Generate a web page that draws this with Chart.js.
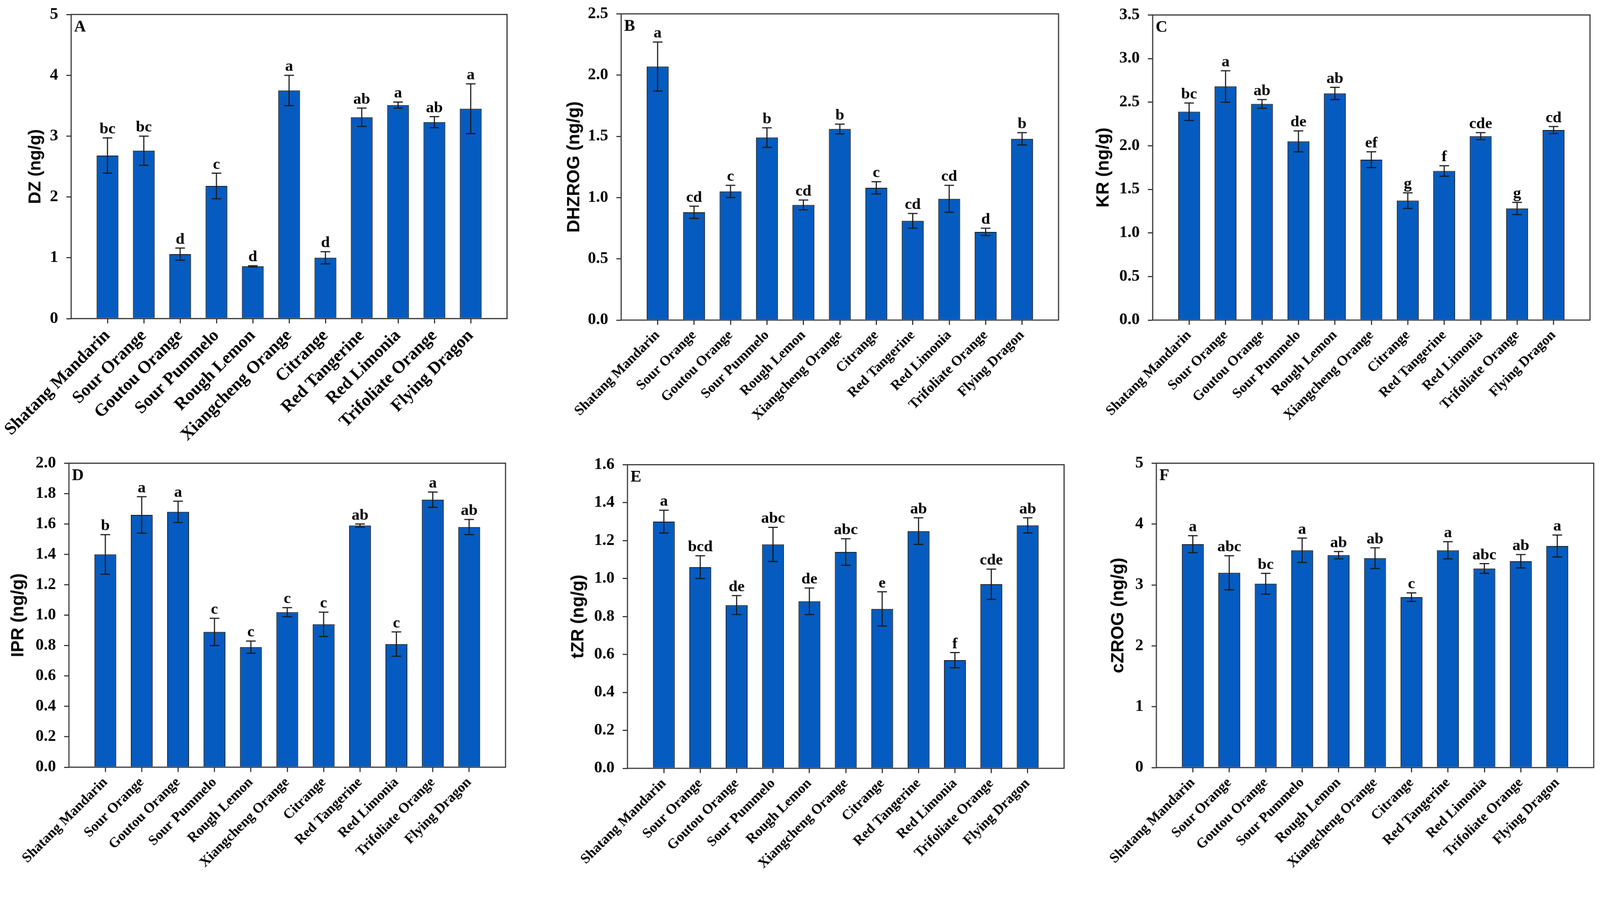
<!DOCTYPE html>
<html>
<head>
<meta charset="utf-8">
<script src="https://cdn.jsdelivr.net/npm/chart.js@4.4.1/dist/chart.umd.min.js"></script>
<style>
  html, body { margin: 0; padding: 0; background: #fff; overflow: hidden; }
  #stage { position: absolute; left: 0; top: 0; width: 4317px; height: 2341px; transform-origin: 0 0; background: #fff; }
  .panel { position: absolute; }
</style>
</head>
<body>
<div id="stage"></div>
<script>
// ====== DATA ======
const CULTIVARS = ["Shatang Mandarin", "Sour Orange", "Goutou Orange", "Sour Pummelo", "Rough Lemon",
  "Xiangcheng Orange", "Citrange", "Red Tangerine", "Red Limonia", "Trifoliate Orange", "Flying Dragon"];

const DZ = [2.68, 2.76, 1.06, 2.18, 0.86, 3.75, 1.00, 3.31, 3.51, 3.23, 3.45];
const DZ_SE = [0.29, 0.24, 0.10, 0.21, 0.01, 0.25, 0.10, 0.15, 0.05, 0.09, 0.41];
const DZ_SIG = ["bc", "bc", "d", "c", "d", "a", "d", "ab", "a", "ab", "a"];

const DHZROG = [2.07, 0.88, 1.05, 1.49, 0.94, 1.56, 1.08, 0.81, 0.99, 0.72, 1.48];
const DHZROG_SE = [0.20, 0.05, 0.05, 0.08, 0.04, 0.04, 0.05, 0.06, 0.11, 0.03, 0.05];
const DHZROG_SIG = ["a", "cd", "c", "b", "cd", "b", "c", "cd", "cd", "d", "b"];

const KR = [2.39, 2.68, 2.48, 2.05, 2.60, 1.84, 1.37, 1.71, 2.11, 1.28, 2.18];
const KR_SE = [0.10, 0.18, 0.05, 0.12, 0.07, 0.09, 0.09, 0.06, 0.04, 0.07, 0.04];
const KR_SIG = ["bc", "a", "ab", "de", "ab", "ef", "g", "f", "cde", "g", "cd"];

const IPR = [1.40, 1.66, 1.68, 0.89, 0.79, 1.02, 0.94, 1.59, 0.81, 1.76, 1.58];
const IPR_SE = [0.13, 0.12, 0.07, 0.09, 0.04, 0.03, 0.08, 0.01, 0.08, 0.05, 0.05];
const IPR_SIG = ["b", "a", "a", "c", "c", "c", "c", "ab", "c", "a", "ab"];

const TZR = [1.30, 1.06, 0.86, 1.18, 0.88, 1.14, 0.84, 1.25, 0.57, 0.97, 1.28];
const TZR_SE = [0.06, 0.06, 0.05, 0.09, 0.07, 0.07, 0.09, 0.07, 0.04, 0.08, 0.04];
const TZR_SIG = ["a", "bcd", "de", "abc", "de", "abc", "e", "ab", "f", "cde", "ab"];

const CZROG = [3.67, 3.20, 3.02, 3.57, 3.49, 3.44, 2.80, 3.57, 3.27, 3.39, 3.64];
const CZROG_SE = [0.14, 0.28, 0.17, 0.20, 0.06, 0.17, 0.07, 0.14, 0.08, 0.11, 0.18];
const CZROG_SIG = ["a", "abc", "bc", "a", "ab", "ab", "c", "a", "abc", "ab", "a"];

// ====== LAYOUT ======
const PAGE_W = 4317;
const YW = 200;   // fixed width of the y axis box
const XH = 330;   // fixed height of the x axis box
const PT = 40;
const PR = 20;

const BAR_COLOR = "#055bbf";
const SERIF = "'Liberation Serif', 'Times New Roman', serif";
const SANS = "'Liberation Sans', Arial, sans-serif";

const PANELS = [
  { tag: "A", title: "DZ (ng/g)", values: DZ, se: DZ_SE, sig: DZ_SIG, yMax: 5, yStep: 1, dec: 0,
    left: 192, top: 30, right: 1368, bottom: 860, titleGap: 96, titleSize: 46, xSize: 47, ySize: 45 },
  { tag: "B", title: "DHZROG (ng/g)", values: DHZROG, se: DHZROG_SE, sig: DHZROG_SIG, yMax: 2.5, yStep: 0.5, dec: 1,
    left: 1676, top: 29, right: 2856, bottom: 864, titleGap: 126, titleSize: 48, xSize: 38, ySize: 44 },
  { tag: "C", title: "KR (ng/g)", values: KR, se: KR_SE, sig: KR_SIG, yMax: 3.5, yStep: 0.5, dec: 1,
    left: 3110, top: 32, right: 4290, bottom: 864, titleGap: 132, titleSize: 48, xSize: 38, ySize: 44 },
  { tag: "D", title: "IPR (ng/g)", values: IPR, se: IPR_SE, sig: IPR_SIG, yMax: 2.0, yStep: 0.2, dec: 1,
    left: 186, top: 1242, right: 1364, bottom: 2071, titleGap: 136, titleSize: 48, xSize: 38, ySize: 44 },
  { tag: "E", title: "tZR (ng/g)", values: TZR, se: TZR_SE, sig: TZR_SIG, yMax: 1.6, yStep: 0.2, dec: 1,
    left: 1693, top: 1246, right: 2871, bottom: 2074, titleGap: 132, titleSize: 48, xSize: 38, ySize: 44 },
  { tag: "F", title: "cZROG (ng/g)", values: CZROG, se: CZROG_SE, sig: CZROG_SIG, yMax: 5, yStep: 1, dec: 0,
    left: 3120, top: 1242, right: 4300, bottom: 2072, titleGap: 102, titleSize: 48, xSize: 38, ySize: 44 }
];

const stage = document.getElementById("stage");
// the page is laid out in reference pixels; fit it to whatever the viewport really is
stage.style.transform = `scale(${window.innerWidth / PAGE_W})`;

function decorations(p) {
  return {
    id: "decor" + p.tag,
    afterDatasetsDraw(chart) {
      const { ctx, chartArea: a, scales: { x, y } } = chart;
      ctx.save();

      // error bars + significance letters
      ctx.strokeStyle = "#1a1a1a";
      ctx.lineWidth = 3;
      ctx.fillStyle = "#000";
      ctx.font = `bold 43px ${SERIF}`;
      ctx.textAlign = "center";
      ctx.textBaseline = "alphabetic";
      p.values.forEach((v, i) => {
        const px = x.getPixelForValue(i);
        const hi = y.getPixelForValue(v + p.se[i]);
        const lo = y.getPixelForValue(v - p.se[i]);
        ctx.beginPath();
        ctx.moveTo(px, hi); ctx.lineTo(px, lo);
        ctx.moveTo(px - 13, hi); ctx.lineTo(px + 13, hi);
        ctx.moveTo(px - 13, lo); ctx.lineTo(px + 13, lo);
        ctx.stroke();
        ctx.fillText(p.sig[i], px, hi - 12);
      });

      // panel letter
      ctx.textAlign = "left";
      ctx.font = `bold 44px ${SERIF}`;
      ctx.fillText(p.tag, a.left + 8, a.top + 46);

      // frame
      ctx.strokeStyle = "#333";
      ctx.lineWidth = 3;
      ctx.strokeRect(a.left, a.top, a.right - a.left, a.bottom - a.top);
      ctx.restore();
    }
  };
}

function makeChart(p) {
  const w = (p.right - p.left) + YW + PR;
  const h = (p.bottom - p.top) + PT + XH;
  const div = document.createElement("div");
  div.className = "panel";
  div.style.left = (p.left - YW) + "px";
  div.style.top = (p.top - PT) + "px";
  div.style.width = w + "px";
  div.style.height = h + "px";
  const canvas = document.createElement("canvas");
  canvas.width = w;
  canvas.height = h;
  canvas.style.width = w + "px";
  canvas.style.height = h + "px";
  div.appendChild(canvas);
  stage.appendChild(div);

  const tickGrid = { offset: false, drawOnChartArea: false, drawTicks: true, tickLength: 13, color: "#333", lineWidth: 3 };
  const last = CULTIVARS.length - 1;

  return new Chart(canvas.getContext("2d"), {
    type: "bar",
    data: {
      datasets: [{
        data: p.values.map((v, i) => ({ x: i, y: v })),
        backgroundColor: BAR_COLOR,
        borderColor: "#111",
        borderWidth: 2,
        barPercentage: 0.6,
        categoryPercentage: 1
      }]
    },
    options: {
      responsive: false,
      animation: false,
      layout: { padding: { top: PT, right: PR, left: 0, bottom: 0 } },
      plugins: { legend: { display: false }, tooltip: { enabled: false } },
      scales: {
        x: {
          type: "linear",
          offset: false,
          min: -1,
          max: CULTIVARS.length,
          afterBuildTicks: (s) => { s.ticks = s.ticks.filter(t => t.value >= 0 && t.value <= last); },
          afterFit: (s) => { s.height = XH; },
          ticks: {
            stepSize: 1,
            autoSkip: false,
            minRotation: 45,
            maxRotation: 45,
            padding: 6,
            color: "#000",
            font: { family: SERIF, weight: "bold", size: p.xSize },
            callback: (v) => CULTIVARS[v] ?? ""
          },
          grid: tickGrid,
          border: { display: false }
        },
        y: {
          min: 0,
          max: p.yMax,
          afterFit: (s) => { s.width = YW; },
          ticks: {
            stepSize: p.yStep,
            padding: 22,
            color: "#000",
            font: { family: SERIF, weight: "bold", size: p.ySize },
            callback: (v) => Number(v).toFixed(p.dec)
          },
          title: {
            display: true,
            text: p.title,
            color: "#000",
            font: { family: SANS, weight: "bold", size: p.titleSize },
            padding: { top: YW - p.titleGap - p.titleSize * 0.6, bottom: 0 }
          },
          grid: tickGrid,
          border: { display: false }
        }
      }
    },
    plugins: [decorations(p)]
  });
}

PANELS.forEach(makeChart);
</script>
</body>
</html>
